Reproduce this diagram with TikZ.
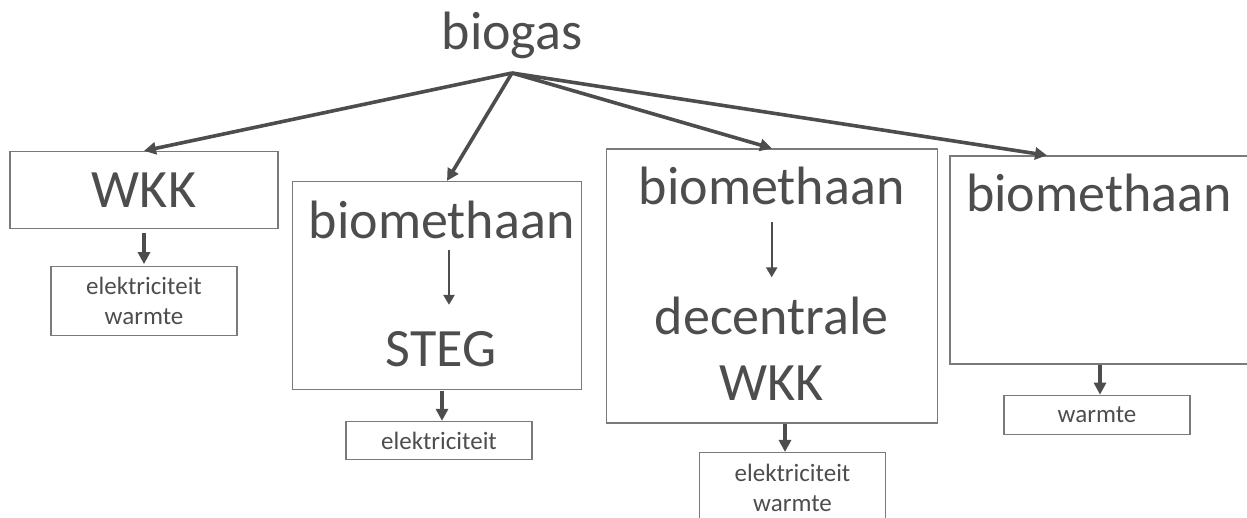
\documentclass[tikz,border=0pt]{standalone}
\usepackage{fontspec}
\setmainfont{Carlito}
\usetikzlibrary{positioning,arrows.meta}
\definecolor{inkgray}{HTML}{4D4D4D}
\definecolor{framegray}{HTML}{7A7A7A}

\tikzset{
  box/.style={draw=framegray, line width=1.3pt, rectangle, inner sep=0pt, text=inkgray, font=\fontsize{54}{65}\selectfont},
  outbox/.style={draw=framegray, line width=1.3pt, inner sep=0pt, minimum width=186pt, text=inkgray, align=center, font=\fontsize{25}{30}\selectfont},
  big/.style={text=inkgray, font=\fontsize{54}{65}\selectfont, inner sep=0pt},
  flow/.style={draw=inkgray, line width=3.6pt, -{Triangle[length=12pt,width=12pt]}},
  inflow/.style={draw=inkgray, line width=2.4pt, -{Triangle[length=10pt,width=11pt]}},
}

\begin{document}
\begin{tikzpicture}[x=1pt,y=-1pt]
\useasboundingbox (0,0) rectangle (1247,518);

% source
\node [big, anchor=base] (biogas) at (512,50) {biogas};
\coordinate (fan) at (512,73);

% the four routes
\node [box, minimum width=268pt, minimum height=77pt] (wkk) at (144,190) {WKK};
\node [box, minimum width=289pt, minimum height=208pt] (steg) at (437,285.5) {};
\node [box, minimum width=331pt, minimum height=274pt] (dwkk) at (772,286) {};
\node [box, minimum width=300pt, minimum height=208pt] (bm) at (1100,260) {};

\draw [flow] (fan) -- (wkk.north);
\draw [flow] (fan) -- ([xshift=10pt]steg.north);
\draw [flow] (fan) -- (dwkk.north);
\draw [flow] (fan) -- ([xshift=-53pt]bm.north);

% inside the boxes
\node [big, anchor=base] (steg_top) at (441.7,238.3) {biomethaan};
\node [big, anchor=base] (steg_bot) at (441,366.7) {STEG};
\draw [inflow, shorten <=10.7pt, shorten >=26.6pt] ([xshift=7.3pt]steg_top.south) -- ([xshift=7.3pt]steg_top.south |- steg_bot.north);

\node [big, anchor=base] (dwkk_top) at (771.7,205) {biomethaan};
\node [big, anchor=base] (dwkk_mid) at (771.7,335) {decentrale};
\node [big, anchor=base] (dwkk_bot) at (771.7,400) {WKK};
\draw [inflow, shorten <=16pt, shorten >=20pt] (dwkk_top.south) -- (dwkk_top.south |- dwkk_mid.north);

\node [big, anchor=base] (bm_top) at (1099,211.7) {biomethaan};

% what comes out
\node [outbox, minimum height=69pt, below=36.7pt of wkk] (out1) {elektriciteit\\warmte};
\node [outbox, minimum height=38.3pt, below=30.7pt of steg, xshift=2pt] (out2) {elektriciteit};
\node [outbox, minimum height=70pt, below=28.3pt of dwkk, xshift=20.5pt] (out3) {elektriciteit\\warmte};
\node [outbox, minimum height=39.3pt, below=30pt of bm, xshift=-3pt] (out4) {warmte};

\draw [flow, shorten <=3.4pt, shorten >=1.7pt] (wkk.south) -- (out1.north);
\draw [flow, shorten <=1pt] ([xshift=3pt]out2.north |- steg.south) -- ([xshift=3pt]out2.north);
\draw [flow] ([xshift=-7.5pt]out3.north |- dwkk.south) -- ([xshift=-7.5pt]out3.north);
\draw [flow] (bm.south) -- (bm.south |- out4.north);

\end{tikzpicture}
\end{document}
